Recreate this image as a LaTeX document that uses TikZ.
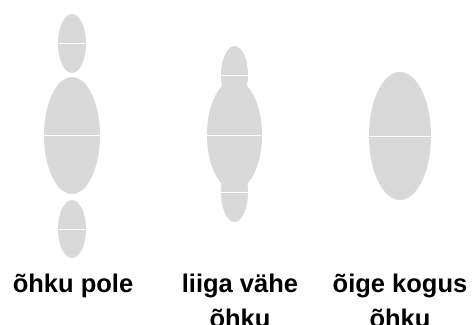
\documentclass[tikz,border=0pt]{standalone}
\usepackage{fontspec}
\setmainfont{Liberation Sans}
\usetikzlibrary{shapes.geometric}
\definecolor{bubble}{HTML}{D9D9D9}
\begin{document}
\begin{tikzpicture}[x=1pt,y=-1pt,
  bub/.style={ellipse,fill=bubble,draw=none,inner sep=0pt,outer sep=0pt},
  mid/.style={draw=white,line width=1pt},
  lab/.style={font=\bfseries\fontsize{25.5}{35}\selectfont,align=center,anchor=base,inner sep=0pt}]
\useasboundingbox[fill=white] (0,0) rectangle (473,324);
% column 1
\node[bub,minimum width=28pt,minimum height=59pt] (a1) at (72,43.5) {};
\node[bub,minimum width=56pt,minimum height=117pt] (a2) at (72,135.5) {};
\node[bub,minimum width=28pt,minimum height=58pt] (a3) at (72,229) {};
% column 2
\node[bub,minimum width=27pt,minimum height=58pt] (b1) at (234.5,75) {};
\node[bub,minimum width=27pt,minimum height=60pt] (b3) at (234.5,192) {};
\node[bub,minimum width=55pt,minimum height=110pt] (b2) at (234.5,135) {};
% column 3
\node[bub,minimum width=62pt,minimum height=128pt] (c1) at (400,136) {};
% centre lines
\foreach \n in {a1,a2,a3,b1,b2,b3,c1} \draw[mid] (\n.west) -- (\n.east);
% labels
\node[lab] (la) at (73,292) {õhku pole};
\node[lab] (lb) at (240,327) {liiga vähe\\õhku};
\node[lab] (lc) at (400,327) {õige kogus\\õhku};
\end{tikzpicture}
\end{document}
